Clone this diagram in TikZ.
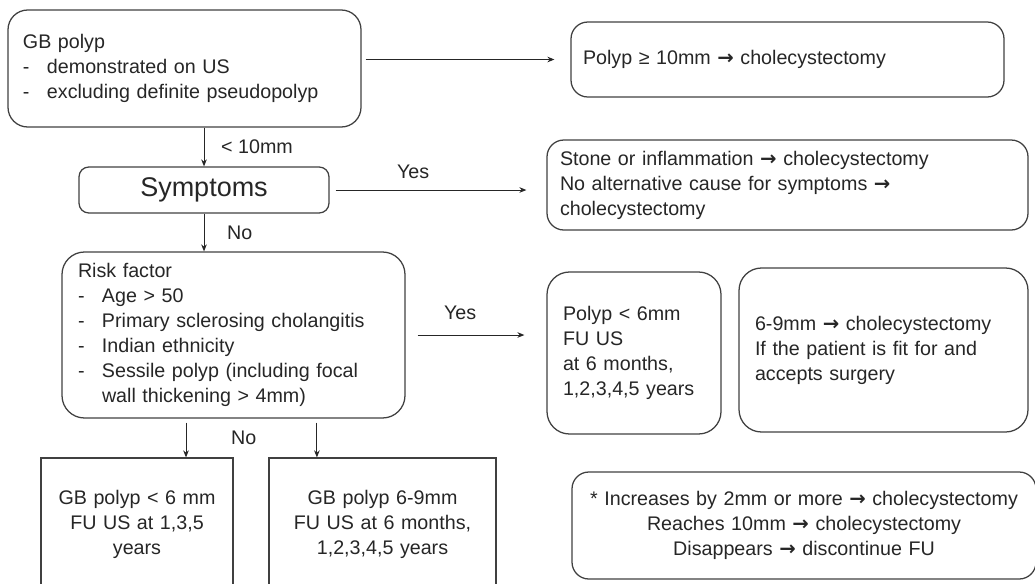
\documentclass[tikz,border=0pt]{standalone}
\usepackage{fontspec}
\setmainfont{Liberation Sans}
\newfontfamily\arrowfont{DejaVu Sans}
\usepackage{tikz}
\usetikzlibrary{positioning, arrows.meta}

\newcommand{\dashitem}{\makebox[0.6cm][l]{-}}
\newcommand{\thento}{{\arrowfont\bfseries →}}

\begin{document}
\begin{tikzpicture}[font=\fontsize{14}{17.8}\selectfont, text=black!85,
  rbox/.style={draw=black!75, line width=0.9pt, rounded corners=#1,
               inner xsep=0.375cm, inner ysep=0pt, align=left},
  rbox/.default=12pt,
  sqbox/.style={draw=black!75, line width=0.9pt, inner xsep=0.2cm,
                inner ysep=0pt, align=center},
  arr/.style={-{Stealth[length=5pt, width=4pt]}, line width=0.7pt, draw=black!85}]

  \useasboundingbox (0,0) rectangle (25.875,-14.575);

  % Left column, top to bottom
  \node[rbox=14pt, minimum width=8.825cm, minimum height=2.925cm, text width=8.075cm]
    (GB) at (4.6125,-1.7125)
    {GB polyp\\\dashitem demonstrated on US\\\dashitem excluding definite pseudopolyp};
  \node[rbox=7pt, minimum width=6.25cm, minimum height=1.15cm, align=center,
        font=\fontsize{19.2}{23}\selectfont]
    (SY) at (5.1,-4.75) {Symptoms};
  \node[rbox=16pt, minimum width=8.575cm, minimum height=4.15cm, text width=7.775cm]
    (RF) at (5.8375,-8.375)
    {Risk factor\\\dashitem Age > 50\\\dashitem Primary sclerosing cholangitis\\
     \dashitem Indian ethnicity\\\dashitem Sessile polyp (including focal\\
     \hspace*{0.6cm}wall thickening > 4mm)};
  \node[sqbox, minimum width=4.8cm, minimum height=3.3cm, text width=4.4cm]
    (FS) at (3.425,-13.1) {GB polyp < 6 mm\\FU US at 1,3,5\\years};
  \node[sqbox, minimum width=5.675cm, minimum height=3.3cm, text width=5.275cm]
    (FM) at (9.5625,-13.1) {GB polyp 6-9mm\\FU US at 6 months,\\1,2,3,4,5 years};

  % Right column
  \node[rbox, minimum width=10.825cm, minimum height=1.875cm, text width=10.225cm,
        inner xsep=0.3cm]
    (BIG) at (19.6875,-1.4875) {Polyp ≥ 10mm \thento{} cholecystectomy};
  \node[rbox, minimum width=12.025cm, minimum height=2.25cm, text width=11.375cm,
        inner xsep=0.325cm]
    (SC) at (19.6875,-4.625)
    {Stone or inflammation \thento{} cholecystectomy\\No alternative cause for symptoms \thento\\cholecystectomy};
  \node[rbox=16pt, minimum width=4.35cm, minimum height=4.05cm, text width=3.55cm,
        inner xsep=0.4cm]
    (SM) at (15.85,-8.825) {Polyp < 6mm\\FU US\\at 6 months,\\1,2,3,4,5 years};
  \node[rbox=16pt, minimum width=7.225cm, minimum height=4.1cm, text width=6.425cm,
        inner xsep=0.4cm]
    (MD) at (22.0875,-8.75)
    {6-9mm \thento{} cholecystectomy\\If the patient is fit for and\\accepts surgery};
  \node[rbox, minimum width=11.6cm, minimum height=2.675cm, text width=11.2cm,
        inner xsep=0.2cm, align=center]
    (NT) at (20.1,-13.1375)
    {* Increases by 2mm or more \thento{} cholecystectomy\\Reaches 10mm \thento{} cholecystectomy\\Disappears \thento{} discontinue FU};

  % Connectors
  \draw[arr, shorten <=0.1cm, shorten >=0.4cm] (GB.east |- BIG.west) -- (BIG.west);
  \draw[arr] (SY.north |- GB.south) -- node[right=0.3cm]{< 10mm} (SY.north);
  \draw[arr, shorten <=0.15cm, shorten >=0.5cm] (SY.east) --
    node[above=0.15cm, pos=0.385]{Yes} (SY.east -| SC.west);
  \draw[arr] (SY.south) -- node[right=0.45cm]{No} (SY.south |- RF.north);
  \draw[arr, shorten <=0.3cm, shorten >=0.55cm] (RF.east) --
    node[above=0.25cm, pos=0.387]{Yes} (RF.east -| SM.west);
  \draw[arr, shorten <=0.1cm] ([xshift=1.225cm]FS.north |- RF.south) --
    node[right=1.0cm]{No} ([xshift=1.225cm]FS.north);
  \draw[arr, shorten <=0.1cm] ([xshift=-1.64cm]FM.north |- RF.south) -- ([xshift=-1.64cm]FM.north);
\end{tikzpicture}
\end{document}
